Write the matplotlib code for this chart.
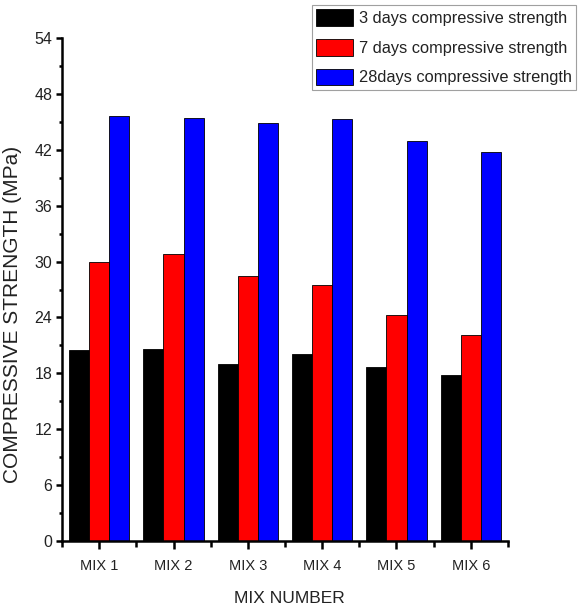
import numpy as np
import matplotlib
matplotlib.use('Agg')
import matplotlib.pyplot as plt
from matplotlib.ticker import MultipleLocator, FixedLocator

mixes = ['MIX 1', 'MIX 2', 'MIX 3', 'MIX 4', 'MIX 5', 'MIX 6']
day3 = [20.5, 20.6, 19.0, 20.1, 18.7, 17.8]
day7 = [29.9, 30.8, 28.5, 27.5, 24.3, 22.1]
day28 = [45.6, 45.4, 44.9, 45.3, 42.9, 41.8]
series_labels = ['3 days compressive strength', '7 days compressive strength',
                 '28days compressive strength']
yticks = [0, 6, 12, 18, 24, 30, 36, 42, 48, 54]

font = ['Liberation Sans', 'DejaVu Sans']

fig = plt.figure(figsize=(5.8, 6.11), dpi=100)
ax = fig.add_axes([62/580, 1-541/611, (508-62)/580, (541-38)/611])

x = np.arange(1, len(mixes)+1)
w = 0.27
ax.bar(x - w, day3, w, color='#000000', edgecolor='black', linewidth=0.6, label=series_labels[0])
ax.bar(x, day7, w, color='#ff0000', edgecolor='black', linewidth=0.6, label=series_labels[1])
ax.bar(x + w, day28, w, color='#0000ff', edgecolor='black', linewidth=0.6, label=series_labels[2])

ax.set_xlim(0.5, 6.5)
ax.set_ylim(0, 54)
ax.set_xticks(x)
ax.set_xticklabels(mixes, family=font, fontsize=10.5, color='#222222')
ax.xaxis.set_minor_locator(FixedLocator(np.arange(0.5, 7, 1)))
ax.set_yticks(yticks)
ax.set_yticklabels([str(v) for v in yticks], family=font, fontsize=11.5, color='#222222')
ax.yaxis.set_minor_locator(MultipleLocator(3))

for s in ['top', 'right']:
    ax.spines[s].set_visible(False)
for s in ['left', 'bottom']:
    ax.spines[s].set_linewidth(1.8)

ax.tick_params(axis='y', which='major', direction='out', length=4, width=1.8, pad=3)
ax.tick_params(axis='y', which='minor', direction='out', length=2.5, width=1.8)
ax.tick_params(axis='x', which='major', direction='out', length=6, width=1.8, pad=7)
ax.tick_params(axis='x', which='minor', direction='out', length=4, width=1.8)

ax.set_ylabel('COMPRESSIVE STRENGTH (MPa)', family=font, fontsize=15, color='#222222')
ax.yaxis.set_label_coords(-0.09, 0.45)
ax.set_xlabel('MIX NUMBER', family=font, fontsize=12.5, color='#222222')
ax.xaxis.set_label_coords(0.51, -0.099)

leg = fig.legend(loc='upper left', bbox_to_anchor=(312/580, 1-5/611),
                 prop={'family': font, 'size': 11.8}, frameon=True, fancybox=False,
                 edgecolor='#888888', handlelength=2.25, handleheight=1.2,
                 handletextpad=0.35, labelspacing=0.78, borderpad=0.25, borderaxespad=0)
leg.get_frame().set_linewidth(0.8)
for t in leg.get_texts():
    t.set_color('#222222')

fig.savefig('out.png', dpi=100)
